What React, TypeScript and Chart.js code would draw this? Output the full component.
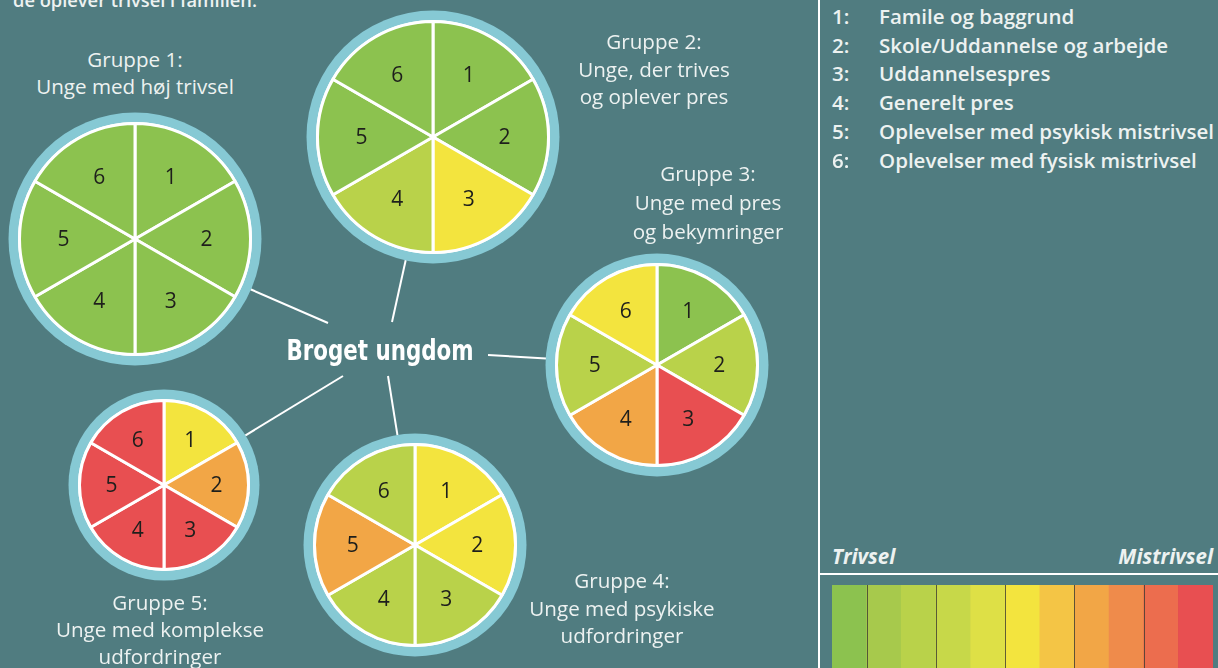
import React, { useEffect, useRef } from "react";
import { Chart, registerables } from "chart.js";
Chart.register(...registerables);

// ---------- data ----------
const categories = ["1", "2", "3", "4", "5", "6"];
const sliceValues = [1, 1, 1, 1, 1, 1];
const legendNumbers = ["1:", "2:", "3:", "4:", "5:", "6:"];
const legendItems = [
  "Famile og baggrund",
  "Skole/Uddannelse og arbejde",
  "Uddannelsespres",
  "Generelt pres",
  "Oplevelser med psykisk mistrivsel",
  "Oplevelser med fysisk mistrivsel",
];
// colour scale from trivsel (0) to mistrivsel (10)
const scaleColors = [
  "#8cc24f", "#a7c94c", "#b9d24a", "#c7d849", "#dee046", "#f3e43e",
  "#f4c545", "#f2a646", "#ef8b4b", "#ec6d4e", "#e84f51",
];
const scaleValues = [1, 1, 1, 1, 1, 1, 1, 1, 1, 1, 1];
const scaleGroupEnds = [0, 2, 4, 6, 8];
const scaleLabels = ["Trivsel", "Mistrivsel"];

const group1Levels = [0, 0, 0, 0, 0, 0];
const group2Levels = [0, 0, 5, 2, 0, 0];
const group3Levels = [0, 2, 10, 7, 2, 5];
const group4Levels = [5, 5, 2, 2, 7, 2];
const group5Levels = [5, 7, 10, 10, 10, 10];

const group1Title = ["Gruppe 1:", "Unge med høj trivsel"];
const group2Title = ["Gruppe 2:", "Unge, der trives", "og oplever pres"];
const group3Title = ["Gruppe 3:", "Unge med pres", "og bekymringer"];
const group4Title = ["Gruppe 4:", "Unge med psykiske", "udfordringer"];
const group5Title = ["Gruppe 5:", "Unge med komplekse", "udfordringer"];

const centerTitle = "Broget ungdom";
const topText = "de oplever trivsel i familien.";

// ---------- layout ----------
const BG = "#507c80";
const RING = "#86c9d4";
const TEXT = "#edf2f1";
const FONT = "'Open Sans', 'Noto Sans', sans-serif";

const groups = [
  { levels: group1Levels, title: group1Title, cx: 135, cy: 239, r: 127, tx: 135, ty: 46, lh: 27, line: [328, 323] },
  { levels: group2Levels, title: group2Title, cx: 433, cy: 137, r: 127, tx: 654, ty: 28, lh: 27.5, line: [392, 322] },
  { levels: group3Levels, title: group3Title, cx: 657, cy: 365, r: 112, tx: 708, ty: 159, lh: 29, line: [488, 355] },
  { levels: group4Levels, title: group4Title, cx: 415, cy: 545, r: 112, tx: 622, ty: 567, lh: 27.5, line: [388, 376] },
  { levels: group5Levels, title: group5Title, cx: 164, cy: 485, r: 96, tx: 160, ty: 589, lh: 27, line: [343, 376] },
];

const ringPlugin = {
  id: "ring",
  beforeDatasetsDraw(chart: any) {
    const ctx = chart.ctx;
    const arc = chart.getDatasetMeta(0).data[0];
    if (!arc) return;
    const R = Math.min(chart.width, chart.height) / 2;
    ctx.save();
    ctx.fillStyle = RING;
    ctx.beginPath();
    ctx.arc(arc.x, arc.y, R - 0.5, 0, Math.PI * 2);
    ctx.fill();
    ctx.fillStyle = "#ffffff";
    ctx.beginPath();
    ctx.arc(arc.x, arc.y, arc.outerRadius + 1.5, 0, Math.PI * 2);
    ctx.fill();
    ctx.restore();
  },
};

const numberPlugin = {
  id: "numbers",
  afterDatasetsDraw(chart: any) {
    const ctx = chart.ctx;
    const meta = chart.getDatasetMeta(0);
    ctx.save();
    ctx.fillStyle = "#1e1f1c";
    ctx.font = `21px ${FONT}`;
    ctx.textAlign = "center";
    ctx.textBaseline = "middle";
    meta.data.forEach((a: any, i: number) => {
      const mid = (a.startAngle + a.endAngle) / 2;
      const rr = a.outerRadius * 0.62;
      ctx.fillText(String(chart.data.labels[i]), a.x + Math.cos(mid) * rr, a.y + Math.sin(mid) * rr + 1);
    });
    ctx.restore();
  },
};

function PieGroup({ levels, r, cx, cy }: any) {
  const ref = useRef<HTMLCanvasElement>(null);
  useEffect(() => {
    const chart = new Chart(ref.current as HTMLCanvasElement, {
      type: "pie",
      data: {
        labels: categories,
        datasets: [
          {
            data: sliceValues,
            backgroundColor: levels.map((l: number) => scaleColors[l]),
            borderColor: "#ffffff",
            borderWidth: 3,
          },
        ],
      },
      options: {
        responsive: false,
        animation: false,
        events: [],
        layout: { padding: 10 },
        plugins: { legend: { display: false }, tooltip: { enabled: false } },
      },
      plugins: [ringPlugin, numberPlugin],
    } as any);
    return () => chart.destroy();
  }, []);
  return (
    <canvas
      ref={ref}
      width={2 * r}
      height={2 * r}
      style={{ position: "absolute", left: cx - r, top: cy - r, width: 2 * r, height: 2 * r }}
    />
  );
}

const separatorPlugin = {
  id: "separators",
  afterDatasetsDraw(chart: any) {
    const ctx = chart.ctx;
    const bars = chart.getDatasetMeta(0).data;
    ctx.save();
    ctx.strokeStyle = "rgba(60,60,50,0.8)";
    ctx.lineWidth = 1;
    scaleGroupEnds.forEach((i) => {
      const x = Math.round((bars[i].x + bars[i + 1].x) / 2) + 0.5;
      ctx.beginPath();
      ctx.moveTo(x, 0);
      ctx.lineTo(x, chart.height);
      ctx.stroke();
    });
    ctx.restore();
  },
};

function ColorScale() {
  const ref = useRef<HTMLCanvasElement>(null);
  useEffect(() => {
    const chart = new Chart(ref.current as HTMLCanvasElement, {
      type: "bar",
      data: {
        labels: scaleColors.map((_, i) => String(i)),
        datasets: [
          {
            data: scaleValues,
            backgroundColor: scaleColors,
            borderWidth: 0,
            barPercentage: 1,
            categoryPercentage: 1,
          },
        ],
      },
      options: {
        responsive: false,
        animation: false,
        events: [],
        layout: { padding: 0 },
        scales: {
          x: { display: false },
          y: { display: false, min: 0, max: 1 },
        },
        plugins: { legend: { display: false }, tooltip: { enabled: false } },
      },
      plugins: [separatorPlugin],
    } as any);
    return () => chart.destroy();
  }, []);
  return (
    <canvas ref={ref} width={381} height={84} style={{ position: "absolute", left: 832, top: 585, width: 381, height: 84 }} />
  );
}

function Connectors() {
  return (
    <svg width={1218} height={668} style={{ position: "absolute", left: 0, top: 0 }}>
      {groups.map((g, i) => {
        const [sx, sy] = g.line;
        const dx = g.cx - sx;
        const dy = g.cy - sy;
        const len = Math.hypot(dx, dy);
        const t = (len - g.r + 1) / len;
        return (
          <line key={i} x1={sx} y1={sy} x2={sx + dx * t} y2={sy + dy * t} stroke="#ffffff" strokeWidth={2} />
        );
      })}
      <line x1={819} y1={0} x2={819} y2={668} stroke="#ffffff" strokeWidth={2} />
      <line x1={819} y1={574} x2={1218} y2={574} stroke="#ffffff" strokeWidth={2} />
    </svg>
  );
}

export default function App() {
  return (
    <div
      style={{
        position: "fixed",
        left: 0,
        top: 0,
        width: 1218,
        height: 668,
        background: BG,
        overflow: "hidden",
        fontFamily: FONT,
        color: TEXT,
      }}
    >
      <Connectors />
      <div style={{ position: "absolute", left: 13, top: -10, fontSize: 18.3, fontWeight: 600, lineHeight: "20px", whiteSpace: "nowrap" }}>
        {topText}
      </div>
      {groups.map((g, i) => (
        <React.Fragment key={i}>
          <PieGroup levels={g.levels} r={g.r} cx={g.cx} cy={g.cy} />
          <div
            style={{
              position: "absolute",
              left: g.tx - 150,
              width: 300,
              top: g.ty,
              textAlign: "center",
              fontSize: 20.6,
              lineHeight: `${g.lh}px`,
              whiteSpace: "nowrap",
            }}
          >
            {g.title.map((t, j) => (
              <div key={j}>{t}</div>
            ))}
          </div>
        </React.Fragment>
      ))}
      <div
        style={{
          position: "absolute",
          left: 380 - 150,
          width: 300,
          top: 350 - 20,
          height: 40,
          lineHeight: "40px",
          textAlign: "center",
          fontFamily: "'DejaVu Sans Condensed', 'DejaVu Sans', sans-serif",
          fontWeight: 700,
          fontSize: 29,
          color: "#ffffff",
          transform: "scaleX(0.82)",
          whiteSpace: "nowrap",
        }}
      >
        {centerTitle}
      </div>
      {legendItems.map((t, i) => (
        <React.Fragment key={i}>
          <div style={{ position: "absolute", left: 832, top: 16 + i * 28.7 - 14, lineHeight: "28px", fontSize: 20.5, fontWeight: 600 }}>
            {legendNumbers[i]}
          </div>
          <div style={{ position: "absolute", left: 879, top: 16 + i * 28.7 - 14, lineHeight: "28px", fontSize: 20.5, fontWeight: 600, whiteSpace: "nowrap" }}>
            {t}
          </div>
        </React.Fragment>
      ))}
      <div style={{ position: "absolute", left: 832, top: 543, lineHeight: "26px", fontSize: 20.5, fontWeight: 700, fontStyle: "italic" }}>
        {scaleLabels[0]}
      </div>
      <div style={{ position: "absolute", right: 5, top: 543, lineHeight: "26px", fontSize: 20.5, fontWeight: 700, fontStyle: "italic" }}>
        {scaleLabels[1]}
      </div>
      <ColorScale />
    </div>
  );
}
